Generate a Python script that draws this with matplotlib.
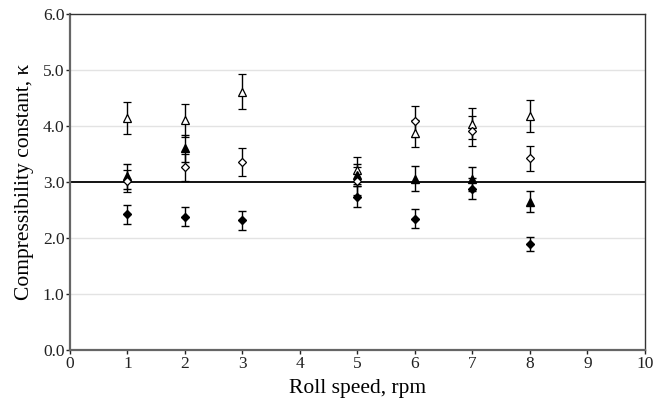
import numpy as np
import matplotlib
matplotlib.use('Agg')
import matplotlib.pyplot as plt

plt.rcParams['font.family'] = ['Liberation Serif', 'DejaVu Serif']

# roll speeds (rpm)
speeds = [1, 2, 3, 5, 6, 7, 8]

# compressibility constant per series, with error bar half-widths
open_tri = [4.14, 4.10, 4.61, 3.21, 3.87, 4.04, 4.18]
open_tri_err = [0.28, 0.30, 0.31, 0.24, 0.24, 0.28, 0.29]
filled_tri = [3.10, 3.60, np.nan, 3.12, 3.06, 3.05, 2.65]
filled_tri_err = [0.22, 0.24, 0.0, 0.20, 0.22, 0.22, 0.19]
open_dia = [3.02, 3.26, 3.35, 3.02, 4.08, 3.91, 3.42]
open_dia_err = [0.20, 0.24, 0.25, 0.25, 0.28, 0.27, 0.23]
filled_dia = [2.42, 2.38, 2.32, 2.74, 2.34, 2.88, 1.89]
filled_dia_err = [0.17, 0.17, 0.17, 0.19, 0.17, 0.19, 0.12]

ref_value = 3.0

fig = plt.figure(figsize=(6.57, 4.08), dpi=100)
ax = fig.add_axes([0.1065, 0.142, 0.875, 0.824])

# grid
for g in [1, 2, 4, 5]:
    ax.axhline(g, color='#e3e3e3', lw=1.0, zorder=0)
ax.axhline(ref_value, color='black', lw=1.3, zorder=1)

common = dict(ls='none', ecolor='black', elinewidth=1.0, capsize=3,
              capthick=1.0, zorder=3)
ax.errorbar(speeds, open_tri, yerr=open_tri_err, marker='^', ms=6,
            mfc='white', mec='black', mew=0.9, **common)
ax.errorbar(speeds, filled_tri, yerr=filled_tri_err, marker='^', ms=6,
            mfc='black', mec='black', **common)
ax.errorbar(speeds, open_dia, yerr=open_dia_err, marker='D', ms=4.5,
            mfc='white', mec='black', mew=0.9, **common)
ax.errorbar(speeds, filled_dia, yerr=filled_dia_err, marker='D', ms=4.5,
            mfc='black', mec='black', **common)

ax.set_xlim(0, 10)
ax.set_ylim(0, 6)
ax.set_xticks(range(0, 11))
ax.set_yticks(np.arange(0, 6.1, 1.0))
ax.set_yticklabels([f"{v:.1f}" for v in np.arange(0, 6.1, 1.0)])
ax.tick_params(direction='out', length=3, width=1, labelsize=12.5,
               colors='#222222', pad=1)

for s in ['left', 'bottom']:
    ax.spines[s].set_color('#666666')
    ax.spines[s].set_linewidth(1.6)
for s in ['top', 'right']:
    ax.spines[s].set_color('#333333')
    ax.spines[s].set_linewidth(1.0)

ax.set_xlabel("Roll speed, rpm", fontsize=15.5, labelpad=5)
ax.set_ylabel("Compressibility constant, \u03ba", fontsize=15.5, labelpad=6)

fig.savefig("out.png", dpi=100)
